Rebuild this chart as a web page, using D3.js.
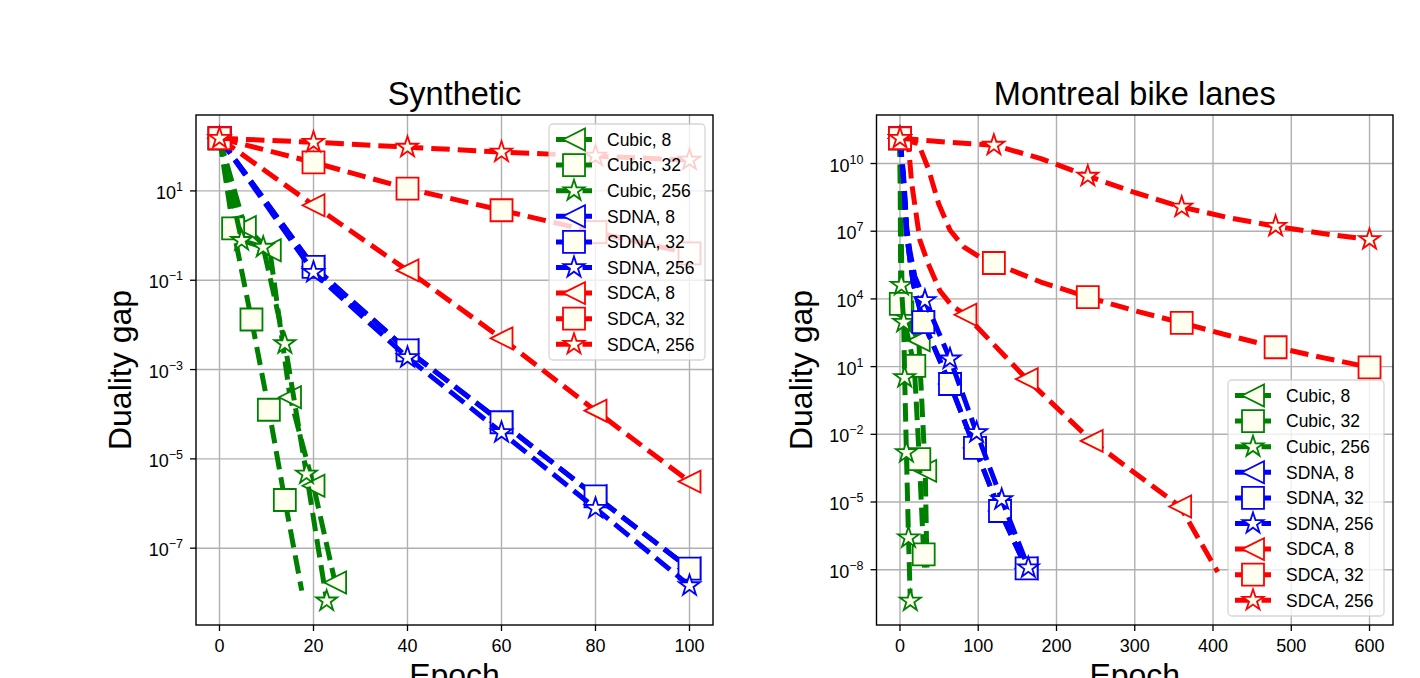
<!DOCTYPE html>
<html>
<head>
<meta charset="utf-8">
<script src="https://cdn.jsdelivr.net/npm/d3@7"></script>
<style>
  body { margin: 0; background: #ffffff; }
  svg { display: block; }
  text { font-family: "Liberation Sans", Arial, Helvetica, sans-serif; fill: #000; }
</style>
</head>
<body>
<svg id="chart" width="1420" height="678"></svg>
<script>
// ---------------- DATA ----------------
const panelTitles = ["Synthetic", "Montreal bike lanes"];
const xLabel = "Epoch";
const yLabel = "Duality gap";
const seriesNames = ["Cubic, 8", "Cubic, 32", "Cubic, 256",
                     "SDNA, 8", "SDNA, 32", "SDNA, 256",
                     "SDCA, 8", "SDCA, 32", "SDCA, 256"];

// Synthetic panel: epochs, duality gaps, and indices of points that carry a marker
const synX = [
  [0, 5.4, 10.7, 15.0, 20.0, 24.6],
  [0, 2.9, 6.8, 10.5, 13.9, 17.5],
  [0, 4.7, 9.3, 13.9, 18.5, 22.8],
  [0, 20, 40, 60, 80, 100],
  [0, 20, 40, 60, 80, 100],
  [0, 20, 40, 60, 80, 100],
  [0, 20, 40, 60, 80, 100],
  [0, 20, 40, 60, 80, 100],
  [0, 20, 40, 60, 80, 100]
];
const synY = [
  [151, 1.55, 0.468, 2.4e-4, 2.5e-6, 1.7e-8],
  [151, 1.45, 0.0132, 1.26e-4, 1.2e-6, 1.12e-8],
  [151, 0.78, 0.55, 3.8e-3, 4.6e-6, 6.6e-9],
  [151, 0.20, 2.7e-3, 6.6e-5, 1.45e-6, 3.5e-8],
  [151, 0.20, 2.7e-3, 6.6e-5, 1.45e-6, 3.5e-8],
  [151, 0.151, 1.86e-3, 3.9e-5, 7.8e-7, 1.45e-8],
  [151, 4.79, 0.166, 5.0e-3, 1.2e-4, 3.1e-6],
  [151, 43.6, 11.3, 3.69, 1.19, 0.398],
  [151, 123, 95.5, 74.1, 60.3, 49.0]
];
const synMarks = [
  [0, 1, 2, 3, 4, 5],
  [0, 1, 2, 3, 4],
  [0, 1, 2, 3, 4, 5],
  [0, 1, 2, 3, 4, 5],
  [0, 1, 2, 3, 4, 5],
  [0, 1, 2, 3, 4, 5],
  [0, 1, 2, 3, 4, 5],
  [0, 1, 2, 3, 4, 5],
  [0, 1, 2, 3, 4, 5]
];
const synXTicks = [0, 20, 40, 60, 80, 100];
const synYTicks = [1e1, 1e-1, 1e-3, 1e-5, 1e-7];

// Montreal bike lanes panel
const bikeX = [
  [0, 3, 24, 32.3, 34.5],
  [0, 1.0, 18.3, 24.7, 30.3, 31.5],
  [0, 1.7, 4.7, 6.0, 8.2, 10.9, 13.2],
  [0, 2, 4.3, 6.4, 8.5, 12.8, 17, 29.8, 63.9, 95.8, 127.8, 161.8],
  [0, 2, 4.3, 6.4, 8.5, 12.8, 17, 29.8, 63.9, 95.8, 127.8, 161.8],
  [0, 2, 4.3, 6.4, 8.5, 12.8, 19, 31.9, 63.9, 97.9, 130, 164],
  [0, 10.6, 15, 25.5, 36.2, 51, 66, 83.6, 162, 245, 358, 406],
  [0, 10, 23.4, 36.2, 49.4, 64, 81.4, 102, 120, 180, 240, 300, 360, 420, 480, 540, 600],
  [0, 60, 120, 180, 240, 300, 360, 420, 480, 540, 600]
];
const bikeY = [
  [1.32e11, 2.5e3, 145, 2.4e-4, 1.26e-8],
  [1.32e11, 6.0e3, 10.7, 7.9e-4, 4.8e-8, 1.26e-8],
  [1.32e11, 4.0e4, 930, 3.3, 1.55e-3, 2.6e-7, 4.1e-10],
  [1.32e11, 2.0e10, 2.5e9, 1.66e8, 7.8e6, 5.1e5, 4.7e4, 930, 1.7, 2.5e-3, 4.0e-6, 1.15e-8],
  [1.32e11, 2.0e10, 2.5e9, 1.66e8, 7.8e6, 5.1e5, 4.7e4, 930, 1.7, 2.5e-3, 4.0e-6, 1.15e-8],
  [1.32e11, 2.5e10, 4.0e9, 3.2e8, 1.6e7, 1.26e6, 1.0e5, 8.5e3, 22, 0.012, 1.3e-5, 1.23e-8],
  [1.32e11, 7.8e10, 1.3e9, 3.9e6, 3.6e5, 2.3e4, 5.1e3, 2.0e3, 2.8, 5.1e-3, 6.3e-6, 7.9e-9],
  [1.32e11, 1.0e11, 7.8e10, 6.0e9, 1.66e8, 1.1e7, 2.0e6, 7.1e5, 3.9e5, 5.6e4, 1.2e4, 3.0e3, 870, 240, 72, 25, 9.3],
  [1.32e11, 8.9e10, 6.5e10, 1.66e10, 2.75e9, 5.2e8, 1.17e8, 4.0e7, 1.66e7, 7.9e6, 4.3e6]
];
const bikeMarks = [
  [0, 1, 2, 3],
  [0, 1, 2, 3, 4],
  [0, 1, 2, 3, 4, 5, 6],
  [0, 7, 8, 9, 10, 11],
  [0, 7, 8, 9, 10, 11],
  [0, 7, 8, 9, 10, 11],
  [0, 7, 8, 9, 10],
  [0, 8, 10, 12, 14, 16],
  [0, 2, 4, 6, 8, 10]
];
const bikeXTicks = [0, 100, 200, 300, 400, 500, 600];
const bikeYTicks = [1e10, 1e7, 1e4, 1e1, 1e-2, 1e-5, 1e-8];

// ---------------- STYLE ----------------
const seriesColors = ["#008000", "#008000", "#008000", "#0000ff", "#0000ff", "#0000ff", "#ff0000", "#ff0000", "#ff0000"];
const seriesMarkers = ["tri", "square", "star", "tri", "square", "star", "tri", "square", "star"];
const markerFill = "#fffff0";
const MS = 22;          // marker size (px)
const LW = 5;           // line width
const DASH = "18.5,8";

const panels = [
  { title: panelTitles[0], xs: synX, ys: synY, marks: synMarks, xTicks: synXTicks, yTicks: synYTicks,
    xDom: [-5, 105], yDom: [Math.pow(10, -8.72), Math.pow(10, 2.70)],
    left: 196, right: 713, legendX: 549, legendY: 124 },
  { title: panelTitles[1], xs: bikeX, ys: bikeY, marks: bikeMarks, xTicks: bikeXTicks, yTicks: bikeYTicks,
    xDom: [-30, 630], yDom: [Math.pow(10, -10.45), Math.pow(10, 12.15)],
    left: 876.5, right: 1393, legendX: 1228, legendY: 380 }
];
const TOP = 115, BOTTOM = 625;

const svg = d3.select("#chart");

function markerPath(type) {
  const h = MS / 2;
  if (type === "square") return `M${-h},${-h}L${h},${-h}L${h},${h}L${-h},${h}Z`;
  if (type === "tri") return `M${-h},0L${h},${-h}L${h},${h}Z`;
  // star
  const ro = h, ri = h * 0.381966;
  let p = "";
  for (let i = 0; i < 10; i++) {
    const r = i % 2 === 0 ? ro : ri;
    const a = -Math.PI / 2 + i * Math.PI / 5;
    p += (i === 0 ? "M" : "L") + (r * Math.cos(a)).toFixed(2) + "," + (r * Math.sin(a)).toFixed(2);
  }
  return p + "Z";
}

function supLabel(sel, v) {
  const e = Math.round(Math.log10(v));
  sel.append("tspan").text("10");
  sel.append("tspan").attr("dy", -8).attr("font-size", 12.5).text(String(e).replace("-", "\u2212"));
}

panels.forEach((P, pi) => {
  const x = d3.scaleLinear().domain(P.xDom).range([P.left, P.right]);
  const y = d3.scaleLog().domain(P.yDom).range([BOTTOM, TOP]);
  const g = svg.append("g");

  const clipId = "clip" + pi;
  svg.append("clipPath").attr("id", clipId).append("rect")
    .attr("x", P.left).attr("y", TOP).attr("width", P.right - P.left).attr("height", BOTTOM - TOP);

  // grid
  g.append("g").selectAll("line").data(P.xTicks).join("line")
    .attr("x1", d => x(d)).attr("x2", d => x(d)).attr("y1", TOP).attr("y2", BOTTOM)
    .attr("stroke", "#b0b0b0").attr("stroke-width", 1.4);
  g.append("g").selectAll("line").data(P.yTicks).join("line")
    .attr("y1", d => y(d)).attr("y2", d => y(d)).attr("x1", P.left).attr("x2", P.right)
    .attr("stroke", "#b0b0b0").attr("stroke-width", 1.4);

  // series
  const plot = g.append("g").attr("clip-path", `url(#${clipId})`);
  const line = d3.line().x(d => x(d[0])).y(d => y(d[1]));
  P.xs.forEach((xs, si) => {
    const pts = xs.map((xv, k) => [xv, P.ys[si][k]]);
    plot.append("path").attr("d", line(pts))
      .attr("fill", "none").attr("stroke", seriesColors[si]).attr("stroke-width", LW)
      .attr("stroke-dasharray", DASH).attr("stroke-linejoin", "round");
    plot.append("g").selectAll("path").data(P.marks[si].map(k => pts[k])).join("path")
      .attr("d", markerPath(seriesMarkers[si]))
      .attr("transform", d => `translate(${x(d[0])},${y(d[1])})`)
      .attr("fill", markerFill).attr("stroke", seriesColors[si]).attr("stroke-width", 1.8);
  });

  // frame
  g.append("rect").attr("x", P.left).attr("y", TOP).attr("width", P.right - P.left).attr("height", BOTTOM - TOP)
    .attr("fill", "none").attr("stroke", "#000").attr("stroke-width", 1.4);

  // x axis ticks
  const xa = g.append("g");
  xa.selectAll("line").data(P.xTicks).join("line")
    .attr("x1", d => x(d)).attr("x2", d => x(d)).attr("y1", BOTTOM).attr("y2", BOTTOM + 6)
    .attr("stroke", "#000").attr("stroke-width", 1.3);
  xa.selectAll("text").data(P.xTicks).join("text")
    .attr("x", d => x(d)).attr("y", BOTTOM + 27).attr("text-anchor", "middle").attr("font-size", 18)
    .text(d => d);

  // y axis ticks
  const ya = g.append("g");
  ya.selectAll("line").data(P.yTicks).join("line")
    .attr("y1", d => y(d)).attr("y2", d => y(d)).attr("x1", P.left - 6).attr("x2", P.left)
    .attr("stroke", "#000").attr("stroke-width", 1.3);
  ya.selectAll("text").data(P.yTicks).join("text")
    .attr("x", P.left - 13).attr("y", d => y(d) + 8).attr("text-anchor", "end").attr("font-size", 18)
    .each(function (d) { supLabel(d3.select(this), d); });

  // title & labels
  const cx = (P.left + P.right) / 2;
  g.append("text").attr("x", cx).attr("y", 105).attr("text-anchor", "middle").attr("font-size", 32.5).text(P.title);
  g.append("text").attr("x", cx).attr("y", 686).attr("text-anchor", "middle").attr("font-size", 32).text(xLabel);
  g.append("text").attr("transform", `translate(${P.left - 65},${(TOP + BOTTOM) / 2}) rotate(-90)`)
    .attr("text-anchor", "middle").attr("font-size", 32).text(yLabel);

  // legend
  const lg = g.append("g").attr("transform", `translate(${P.legendX},${P.legendY})`);
  lg.append("rect").attr("x", 0).attr("y", 0).attr("width", 156).attr("height", 236).attr("rx", 4)
    .attr("fill", "#fff").attr("fill-opacity", 0.8).attr("stroke", "#cccccc").attr("stroke-opacity", 0.8).attr("stroke-width", 1.3);
  seriesNames.forEach((name, si) => {
    const cy = 15.5 + si * 25.6;
    lg.append("line").attr("x1", 7).attr("x2", 43).attr("y1", cy).attr("y2", cy)
      .attr("stroke", seriesColors[si]).attr("stroke-width", LW).attr("stroke-dasharray", DASH);
    lg.append("path").attr("d", markerPath(seriesMarkers[si])).attr("transform", `translate(25,${cy})`)
      .attr("fill", markerFill).attr("stroke", seriesColors[si]).attr("stroke-width", 1.8);
    lg.append("text").attr("x", 58).attr("y", cy + 6.3).attr("font-size", 17.5).text(name);
  });
});
</script>
</body>
</html>
